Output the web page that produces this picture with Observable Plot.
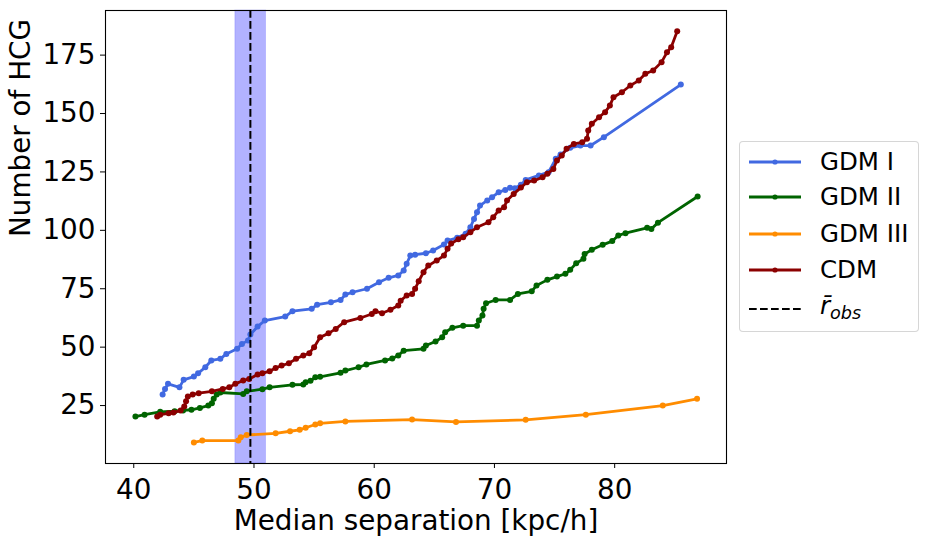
<!DOCTYPE html>
<html><head><meta charset="utf-8">
<script src="https://cdn.jsdelivr.net/npm/d3@7"></script>
<script src="https://cdn.jsdelivr.net/npm/@observablehq/plot@0.6"></script>
<style>
body{margin:0;background:#fff;}
#wrap{position:relative;width:929px;height:544px;font-family:"DejaVu Sans";}
#legend{position:absolute;left:739px;top:141px;width:180px;height:191px;border:1px solid rgba(204,204,204,0.8);border-radius:4px;background:rgba(255,255,255,0.8);box-sizing:border-box;}
.row{position:absolute;left:0;height:30px;display:flex;align-items:center;}
.row svg{margin-left:8px;}
.row span{margin-left:18px;font-size:24.5px;line-height:30px;color:#000;white-space:nowrap;}
</style>
</head><body>
<div id="wrap"><div id="chart"></div><div id="legend"></div></div>
<script>
const series = ["GDM I", "GDM II", "GDM III", "CDM"];
const colors = ["#4169e1", "#006400", "#ff8c00", "#8b0000"];
const xTicks = [40, 50, 60, 70, 80];
const yTicks = [25, 50, 75, 100, 125, 150, 175];
const rObs = 49.7;
const rObsBand = [48.45, 51.0];

const gdm1 = [[42.4,29.7],[42.6,32.1],[42.85,34.3],[43.8,32.8],[44.15,36.0],[45.0,37.4],[45.35,38.8],[45.95,41.4],[46.45,44.3],[47.2,45.0],[47.7,47.1],[48.6,49.3],[49.0,51.4],[49.5,52.8],[49.7,55.4],[50.3,58.8],[50.9,61.4],[52.6,63.1],[53.2,65.4],[54.8,66.4],[55.25,68.2],[56.4,69.2],[57.2,70.2],[57.6,72.5],[58.2,73.5],[59.4,75.0],[60.4,77.8],[61.2,79.7],[62.0,80.7],[62.45,82.8],[62.7,85.7],[63.0,89.2],[63.4,89.6],[64.3,90.2],[64.9,91.4],[65.8,93.9],[66.1,95.6],[66.9,96.8],[67.6,98.5],[68.0,101.3],[68.3,104.9],[68.55,107.7],[68.8,110.6],[69.4,112.8],[69.8,114.2],[70.35,116.3],[70.9,117.3],[71.3,118.2],[71.7,118.0],[72.2,119.5],[72.6,121.6],[73.7,123.5],[74.5,124.9],[75.1,130.6],[75.5,132.5],[76.3,135.3],[77.15,136.3],[78.0,136.3],[79.1,139.9],[85.5,162.4]];
const gdm2 = [[40.14,20.3],[40.9,21.1],[42.2,22.3],[43.4,22.6],[44.1,22.9],[44.8,23.2],[45.5,24.0],[46.2,25.0],[46.5,26.0],[46.65,27.9],[46.9,29.7],[47.2,30.6],[49.1,30.0],[49.4,31.1],[50.7,32.0],[51.3,32.8],[53.2,33.9],[54.1,34.0],[54.3,35.0],[54.7,35.6],[55.1,37.1],[55.5,37.3],[57.2,39.0],[57.6,40.0],[58.7,41.4],[59.35,42.6],[60.9,44.3],[61.5,45.1],[62.0,46.4],[62.45,48.5],[64.1,49.3],[64.3,50.7],[65.1,52.4],[65.65,54.2],[65.9,56.4],[66.5,58.3],[67.4,59.2],[68.55,59.2],[68.7,61.4],[69.0,63.5],[69.1,66.4],[69.3,68.8],[70.1,70.2],[71.3,70.2],[71.95,72.8],[73.1,73.9],[73.5,76.4],[74.4,78.8],[75.2,80.2],[75.9,81.4],[76.3,83.1],[76.8,85.9],[77.4,87.8],[77.5,89.9],[78.1,91.7],[79.0,93.8],[79.8,95.4],[80.3,97.8],[80.9,98.8],[82.7,101.1],[83.05,100.6],[83.6,103.3],[86.9,114.5]];
const gdm3 = [[45.0,9.2],[45.7,10.0],[48.7,10.0],[48.9,11.4],[49.4,12.4],[51.8,13.1],[53.0,14.0],[53.8,14.6],[54.3,15.5],[55.1,16.9],[55.5,17.4],[57.6,18.2],[63.15,19.0],[66.8,18.0],[72.6,18.9],[77.6,21.1],[84.0,25.0],[86.85,27.9]];
const cdm = [[41.95,20.3],[42.2,21.1],[42.9,21.7],[43.3,22.0],[43.9,22.9],[44.2,24.6],[44.35,26.8],[44.5,28.9],[44.9,29.7],[45.4,30.3],[46.5,31.1],[47.4,32.1],[47.95,32.8],[48.45,34.3],[49.1,35.7],[49.6,36.4],[50.3,38.3],[50.7,38.8],[51.3,39.7],[51.8,41.1],[52.3,42.1],[52.9,43.1],[53.5,45.0],[54.1,46.4],[54.6,47.4],[55.0,50.0],[55.5,54.2],[56.2,55.9],[56.8,57.8],[57.5,60.7],[58.85,62.5],[59.8,64.2],[60.1,65.4],[60.65,64.5],[61.35,66.0],[62.0,67.8],[62.2,69.9],[62.7,72.1],[63.15,72.8],[63.4,75.0],[63.7,78.2],[64.1,82.1],[64.5,84.9],[65.2,87.1],[65.8,89.2],[66.1,92.1],[66.4,94.4],[67.0,96.2],[67.4,97.0],[68.0,99.2],[68.55,101.3],[69.5,103.5],[69.9,105.6],[70.35,108.5],[70.8,109.9],[71.05,112.8],[71.6,115.6],[72.2,118.3],[72.7,120.6],[73.3,121.3],[74.0,122.7],[74.4,124.2],[74.9,126.3],[75.2,129.9],[75.6,132.0],[76.0,134.9],[76.6,137.0],[77.3,137.7],[77.7,139.2],[77.8,142.7],[78.1,145.6],[78.7,148.4],[79.2,150.6],[79.6,153.4],[79.9,157.0],[80.6,159.1],[81.3,162.0],[82.0,164.1],[82.55,167.0],[83.2,168.4],[83.9,172.0],[84.35,176.2],[84.7,178.4],[85.2,185.2]];

const allSeries = [gdm1, gdm2, gdm3, cdm];
const tables = allSeries.map((arr, i) => arr.map(([x, y]) => ({x, y, s: series[i]})));

const seriesMarks = tables.flatMap((t, i) => [
  Plot.line(t, {x: "x", y: "y", stroke: colors[i], strokeWidth: 2.8}),
  Plot.dot(t, {x: "x", y: "y", r: 3, fill: colors[i]})
]);

const chart = Plot.plot({
  width: 929, height: 544,
  marginLeft: 105, marginRight: 203, marginTop: 10, marginBottom: 81,
  x: {domain: [37.65, 89.3]},
  y: {domain: [0.2, 194.1]},
  style: {fontFamily: "DejaVu Sans", fontSize: "27.8px", color: "black", background: "white", overflow: "visible"},
  marks: [
    Plot.rect([rObsBand], {x1: d => d[0], x2: d => d[1], fill: "#0000ff", fillOpacity: 0.3, stroke: "#0000ff", strokeOpacity: 0.15}),
    ...seriesMarks,
    Plot.ruleX([rObs], {stroke: "black", strokeWidth: 2, strokeDasharray: "7.7,3.3"}),
    Plot.frame({stroke: "black", strokeWidth: 1.1}),
    Plot.axisX(xTicks, {tickSize: 5, tickPadding: 11, label: null, fontSize: 27.8}),
    Plot.axisY(yTicks, {tickSize: 5, tickPadding: 5, label: null, fontSize: 27.8}),
    Plot.text(["Median separation [kpc/h]"], {frameAnchor: "bottom", dy: 66, fontSize: 27.8}),
    Plot.text(["Number of HCG"], {frameAnchor: "left", dx: -84, rotate: -90, fontSize: 27.8})
  ]
});
document.getElementById("chart").appendChild(chart);

// legend
const legend = document.getElementById("legend");
const rowCenters = [19.7, 55, 92.3, 128.3, 167.3];
const legendItems = series.map((s, i) => ({label: s, color: colors[i], dashed: false}))
  .concat([{label: null, color: "black", dashed: true}]);
legendItems.forEach((item, i) => {
  const row = document.createElement("div");
  row.className = "row";
  row.style.top = (rowCenters[i] - 15) + "px";
  const ns = "http://www.w3.org/2000/svg";
  const svg = document.createElementNS(ns, "svg");
  svg.setAttribute("width", 54); svg.setAttribute("height", 30);
  const ln = document.createElementNS(ns, "line");
  ln.setAttribute("x1", 1); ln.setAttribute("x2", 53);
  ln.setAttribute("y1", 15); ln.setAttribute("y2", 15);
  ln.setAttribute("stroke", item.color);
  ln.setAttribute("stroke-width", item.dashed ? 2 : 2.8);
  if (item.dashed) ln.setAttribute("stroke-dasharray", "7.7,3.3");
  svg.appendChild(ln);
  if (!item.dashed) {
    const c = document.createElementNS(ns, "circle");
    c.setAttribute("cx", 27); c.setAttribute("cy", 15); c.setAttribute("r", 2.6);
    c.setAttribute("fill", item.color);
    svg.appendChild(c);
  }
  row.appendChild(svg);
  const span = document.createElement("span");
  if (item.label) span.textContent = item.label;
  else span.innerHTML = '<i>r&#772;</i><sub style="font-size:0.72em;font-style:italic;vertical-align:-0.3em;">obs</sub>';
  row.appendChild(span);
  legend.appendChild(row);
});
</script>
</body></html>
